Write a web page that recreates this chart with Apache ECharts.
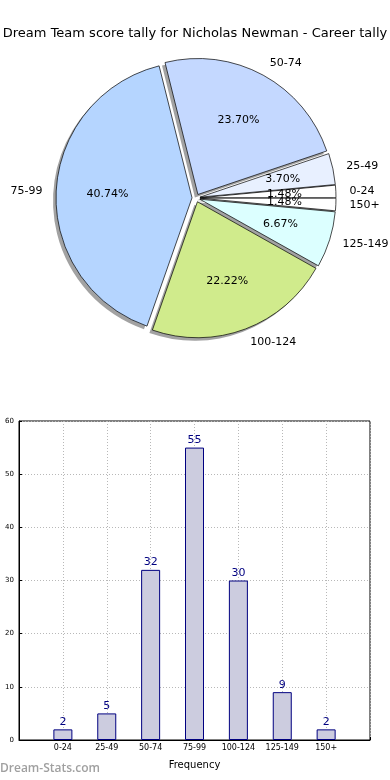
<!DOCTYPE html>
<html>
<head>
<meta charset="utf-8">
<script src="https://cdn.jsdelivr.net/npm/echarts@6/dist/echarts.min.js"></script>
<style>
html,body{margin:0;padding:0;background:#fff;}
#main{width:390px;height:780px;}
</style>
</head>
<body>
<div id="main"></div>
<script>
// ---- data ----
var titleText = 'Dream Team score tally for Nicholas Newman - Career tally';
var categories = ['0-24', '25-49', '50-74', '75-99', '100-124', '125-149', '150+'];
var counts = [2, 5, 32, 55, 30, 9, 2];
var sliceColors = ['#ffffff', '#e8f0ff', '#c4d8ff', '#b5d5ff', '#d0eb8c', '#dcffff', '#ffffff'];
var yTicks = [0, 10, 20, 30, 40, 50, 60];
var xAxisName = 'Frequency';
var watermark = 'Dream-Stats.com';

var total = counts.reduce(function (a, b) { return a + b; }, 0);
var FONT = 'DejaVu Sans';
var CX = 196, CY = 198, R = 136, OFF = 4;

function pieData(withColor) {
  return categories.map(function (c, i) {
    var d = { name: c, value: counts[i], selected: true };
    if (withColor) d.itemStyle = { color: sliceColors[i] };
    return d;
  });
}

var common = {
  type: 'pie',
  startAngle: 0,
  clockwise: false,
  selectedMode: 'multiple',
  selectedOffset: OFF,
  avoidLabelOverlap: false,
  animation: false,
  silent: true,
  emphasis: { disabled: true },
  select: { disabled: false, itemStyle: {} }
};

var chart = echarts.init(document.getElementById('main'), null, { renderer: 'canvas' });
chart.setOption({
  animation: false,
  title: {
    text: titleText,
    left: 'center',
    top: 22,
    textStyle: { fontFamily: FONT, fontSize: 13, fontWeight: 'normal', color: '#000' }
  },
  graphic: [{
    type: 'text', left: 0, top: 763,
    style: { text: watermark, font: '600 12px "Open Sans"', fill: '#a0a0a0' }
  }],
  grid: {
    left: 19, right: 20, top: 421, bottom: 40,
    show: true, borderColor: '#000', borderWidth: 1, backgroundColor: 'transparent'
  },
  xAxis: {
    type: 'value', min: -1, max: 7, interval: 1,
    name: xAxisName, nameLocation: 'middle', nameGap: 20,
    nameTextStyle: { fontFamily: FONT, fontSize: 10, color: '#000' },
    axisLine: { show: true, onZero: false, lineStyle: { color: '#000' } },
    axisTick: { show: true, inside: true, length: 3, lineStyle: { color: '#000' } },
    axisLabel: {
      fontFamily: FONT, fontSize: 8, color: '#000', margin: 4,
      formatter: function (v) { return categories[v] !== undefined ? categories[v] : ''; }
    },
    splitLine: { show: true, lineStyle: { color: '#b8b8b8', type: [1, 2], width: 1 } }
  },
  yAxis: {
    type: 'value', min: yTicks[0], max: yTicks[yTicks.length - 1], interval: 10,
    axisLine: { show: true, onZero: false, lineStyle: { color: '#000' } },
    axisTick: { show: true, inside: true, length: 3, lineStyle: { color: '#000' } },
    axisLabel: { fontFamily: FONT, fontSize: 7, color: '#000', margin: 5 },
    splitLine: { show: true, lineStyle: { color: '#b8b8b8', type: [1, 2], width: 1 } }
  },
  series: [
    // shadow
    Object.assign({}, common, {
      center: [CX - 3, CY + 3], radius: [0, R], z: 1,
      data: pieData(false),
      itemStyle: { color: 'rgba(70,70,70,0.5)', borderWidth: 0 },
      label: { show: false }, labelLine: { show: false }
    }),
    // main pie
    Object.assign({}, common, {
      center: [CX, CY], radius: [0, R], z: 2,
      data: pieData(true),
      itemStyle: { borderColor: '#000', borderWidth: 0.7 },
      label: { show: false }, labelLine: { show: false }
    }),
    // percent labels at 0.6 R
    Object.assign({}, common, {
      center: [CX, CY], radius: [R * 0.2, R], z: 3,
      data: pieData(false),
      itemStyle: { color: 'rgba(0,0,0,0)', borderWidth: 0 },
      label: {
        show: true, position: 'inner', fontFamily: FONT, fontSize: 11, color: '#000',
        formatter: function (p) { return (p.value / total * 100).toFixed(2) + '%'; }
      },
      labelLine: { show: false },
      labelLayout: { hideOverlap: false }
    }),
    // name labels at 1.1 R
    Object.assign({}, common, {
      center: [CX, CY], radius: [0, R], z: 3,
      data: pieData(false),
      itemStyle: { color: 'rgba(0,0,0,0)', borderWidth: 0 },
      label: {
        show: true, position: 'outside', fontFamily: FONT, fontSize: 11, color: '#000',
        distanceToLabelLine: 0, formatter: '{b}'
      },
      labelLine: { show: false, length: R * 0.1, length2: 0 },
      labelLayout: { hideOverlap: false }
    }),
    // bars
    {
      type: 'bar',
      data: counts.map(function (v, i) { return [i, v]; }),
      barWidth: 19,
      itemStyle: { color: '#ccccdf', borderColor: '#000080', borderWidth: 1 },
      label: {
        show: true, position: 'top', distance: 2,
        fontFamily: FONT, fontSize: 11, color: '#000080'
      },
      silent: true, z: 1
    }
  ]
});
</script>
</body>
</html>
